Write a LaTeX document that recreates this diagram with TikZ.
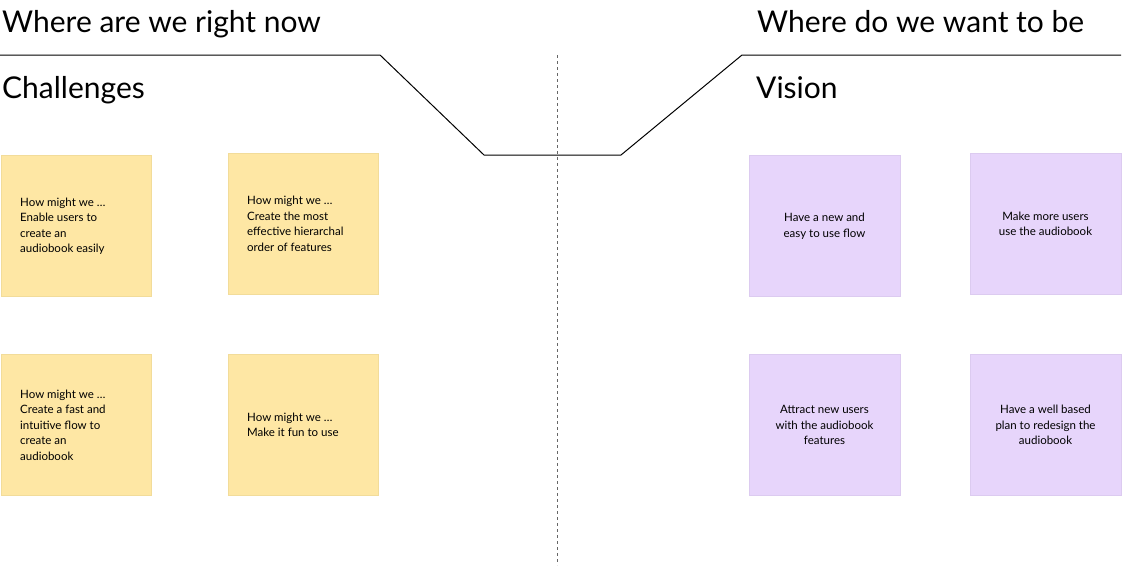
\documentclass[tikz,border=0pt]{standalone}
\usepackage{fontspec}
\setmainfont{Lato}
\definecolor{ynote}{HTML}{FEE7A4}
\definecolor{yedge}{HTML}{F2DC9A}
\definecolor{pnote}{HTML}{E7D5FB}
\definecolor{pedge}{HTML}{DCCBF0}
\begin{document}
\begin{tikzpicture}[x=1pt,y=-1pt,
  ysticky/.style={fill=ynote,draw=yedge,line width=0.8pt},
  psticky/.style={fill=pnote,draw=pedge,line width=0.8pt},
  ltext/.style={align=left,font=\fontsize{11.5}{15.5}\selectfont,inner sep=0},
  ctext/.style={align=center,font=\fontsize{11.5}{15.5}\selectfont,inner sep=0},
  title/.style={anchor=base west,font=\fontsize{30}{36}\selectfont,inner sep=0}]
\useasboundingbox (0,0) rectangle (1124,565);
\fill[white] (0,0) rectangle (1124,565);
% titles
\node[title] (t1) at (2,32) {Where are we right now};
\node[title] (t2) at (757,32) {Where do we want to be};
\node[title] (t3) at (2,98) {Challenges};
\node[title] (t4) at (756,98) {Vision};
% line
\draw[line width=1pt] (0,55) -- (380,55) -- (484,155) -- (621,155) -- (742,55) -- (1121,55);
\draw[dashed,line width=1pt,gray!80!black] (557,55) -- (557,565);
% yellow
\draw[ysticky] (1,155) rectangle (151,296);
\draw[ysticky] (228,153) rectangle (378,294);
\draw[ysticky] (1,354) rectangle (151,495);
\draw[ysticky] (228,354) rectangle (378,495);
\node[ltext,anchor=west] (ya) at (20,226) {How might we …\\Enable users to\\create an\\audiobook easily};
\node[ltext,anchor=west] (yb) at (247,224) {How might we …\\Create the most\\effective hierarchal\\order of features};
\node[ltext,anchor=west] (yc) at (20,425) {How might we …\\Create a fast and\\intuitive flow to\\create an\\audiobook};
\node[ltext,anchor=west] (yd) at (247,425) {How might we …\\Make it fun to use};
% purple
\draw[psticky] (749,155) rectangle (900,296);
\draw[psticky] (970,153) rectangle (1121,294);
\draw[psticky] (749,354) rectangle (900,495);
\draw[psticky] (970,354) rectangle (1121,495);
\node[ctext] (pa) at (824.5,226) {Have a new and\\easy to use flow};
\node[ctext] (pb) at (1045.5,224) {Make more users\\use the audiobook};
\node[ctext] (pc) at (824.5,425) {Attract new users\\with the audiobook\\features};
\node[ctext] (pd) at (1045.5,425) {Have a well based\\plan to redesign the\\audiobook};
\end{tikzpicture}
\end{document}
